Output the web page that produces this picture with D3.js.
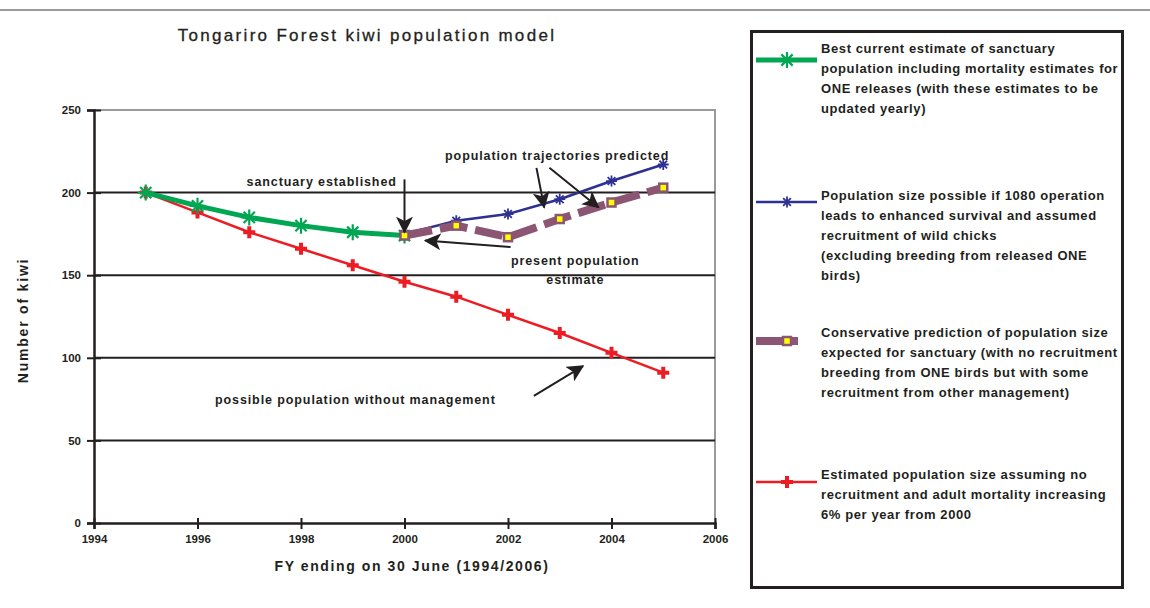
<!DOCTYPE html>
<html>
<head>
<meta charset="utf-8">
<script src="https://cdn.jsdelivr.net/npm/d3@7"></script>
<style>
  html, body { margin: 0; padding: 0; background: #fff; }
  svg { display: block; font-family: 'Liberation Sans', Arial, sans-serif; }
</style>
</head>
<body>
<div id="chart"></div>
<script>
// years on the x axis
const years = [1995, 1996, 1997, 1998, 1999, 2000, 2001, 2002, 2003, 2004, 2005]
const xTicks = [1994, 1996, 1998, 2000, 2002, 2004, 2006]
const yTicks = [0, 50, 100, 150, 200, 250]

// series values
const currentYears = [1995, 1996, 1997, 1998, 1999, 2000]
const currentEstimate = [200, 192, 185, 180, 176, 174]
const futureYears = [2000, 2001, 2002, 2003, 2004, 2005]
const possible1080 = [175, 183, 187, 196, 207, 217]
const conservative = [174, 180, 173, 184, 194, 203]
const noManagement = [200, 188, 176, 166, 156, 146, 137, 126, 115, 103, 91]

const legendTexts = [
  ['Best current estimate of sanctuary', 'population including mortality estimates for', 'ONE releases (with these estimates to be', 'updated yearly)'],
  ['Population size possible if 1080 operation', 'leads to enhanced survival and assumed', 'recruitment of wild chicks', '(excluding breeding from released ONE', 'birds)'],
  ['Conservative prediction of population size', 'expected for sanctuary (with no recruitment', 'breeding from ONE birds but with some', 'recruitment from other management)'],
  ['Estimated population size assuming no', 'recruitment and adult mortality increasing', '6% per year from 2000']
]

const width = 1150
const height = 608
const ink = '#231f20'

const svg = d3.select('#chart')
  .append('svg')
  .attr('width', width)
  .attr('height', height)

svg.append('line')
  .attr('x1', 0).attr('x2', width)
  .attr('y1', 10).attr('y2', 10)
  .attr('stroke', '#9a9a9a')
  .attr('stroke-width', 2)

const x = d3.scaleLinear().domain([1994, 2006]).range([94, 715])
const y = d3.scaleLinear().domain([0, 250]).range([523, 110])

// plot border (grey top/right)
svg.append('path')
  .attr('d', `M${x(1994)},${y(250)}H${x(2006)}V${y(0)}`)
  .attr('fill', 'none')
  .attr('stroke', '#9a9a9a')
  .attr('stroke-width', 2)

// gridlines
svg.append('g')
  .selectAll('line')
  .data(yTicks.filter(d => d > 0 && d < 250))
  .join('line')
  .attr('x1', x(1994)).attr('x2', x(2006))
  .attr('y1', d => y(d)).attr('y2', d => y(d))
  .attr('stroke', ink)
  .attr('stroke-width', 2)

// axes
const yAxis = svg.append('g')
  .attr('transform', `translate(${x(1994)},0)`)
  .call(d3.axisLeft(y).tickValues(yTicks).tickSize(7).tickPadding(13).tickFormat(d3.format('d')))
yAxis.select('.domain').attr('stroke', ink).attr('stroke-width', 2.5)
yAxis.selectAll('.tick line').attr('stroke', ink).attr('stroke-width', 2).attr('x2', 7).attr('x1', -7)
yAxis.selectAll('text').attr('font-size', 11.5).attr('font-weight', 'bold').attr('fill', ink).attr('dx', 7)

const xAxis = svg.append('g')
  .attr('transform', `translate(0,${y(0)})`)
  .call(d3.axisBottom(x).tickValues(xTicks).tickSize(6).tickPadding(6).tickFormat(d3.format('d')))
xAxis.select('.domain').attr('stroke', ink).attr('stroke-width', 2.5)
xAxis.selectAll('.tick line').attr('stroke', ink).attr('stroke-width', 2).attr('y1', -5)
xAxis.selectAll('text').attr('font-size', 11.5).attr('font-weight', 'bold').attr('fill', ink)

// titles
svg.append('text')
  .attr('x', 367).attr('y', 41)
  .attr('text-anchor', 'middle')
  .attr('font-size', 17)
  .attr('letter-spacing', 2.3)
  .attr('fill', ink)
  .attr('stroke', ink)
  .attr('stroke-width', 0.3)
  .text('Tongariro Forest kiwi population model')

svg.append('text')
  .attr('transform', `translate(28,${(y(0) + y(250)) / 2 + 4}) rotate(-90)`)
  .attr('text-anchor', 'middle')
  .attr('font-size', 14)
  .attr('letter-spacing', 1.8)
  .attr('font-weight', 'bold')
  .attr('fill', ink)
  .text('Number of kiwi')

svg.append('text')
  .attr('x', 412).attr('y', 571)
  .attr('text-anchor', 'middle')
  .attr('font-size', 14)
  .attr('letter-spacing', 1.6)
  .attr('font-weight', 'bold')
  .attr('fill', ink)
  .text('FY ending on 30 June (1994/2006)')

// markers
const starPath = s => `M${-s},0H${s}M0,${-s}V${s}M${-s * 0.7},${-s * 0.7}L${s * 0.7},${s * 0.7}M${-s * 0.7},${s * 0.7}L${s * 0.7},${-s * 0.7}`
const crossSymbol = d3.symbol().type(d3.symbolCross).size(80)

const line = d3.line().x(d => x(d[0])).y(d => y(d[1]))

function drawSeries (xs, vs, color, widthPx, dash, marker) {
  const pts = xs.map((yr, i) => [yr, vs[i]])
  svg.append('path')
    .datum(pts)
    .attr('d', line)
    .attr('fill', 'none')
    .attr('stroke', color)
    .attr('stroke-width', widthPx)
    .attr('stroke-dasharray', dash)
  svg.append('g')
    .selectAll('g')
    .data(pts)
    .join('g')
    .attr('transform', d => `translate(${x(d[0])},${y(d[1])})`)
    .each(function () { marker(d3.select(this), color) })
}

const markStar = (sel, color) => sel.append('path').attr('d', starPath(8)).attr('stroke', color).attr('stroke-width', 2.2).attr('fill', 'none')
const markStarSmall = (sel, color) => sel.append('path').attr('d', starPath(5.5)).attr('stroke', color).attr('stroke-width', 1.8).attr('fill', 'none')
const markCross = (sel, color) => sel.append('path').attr('d', crossSymbol()).attr('fill', color)
const markSquare = (sel) => sel.append('rect').attr('x', -4).attr('y', -4).attr('width', 8).attr('height', 8).attr('fill', '#ffff00').attr('stroke', '#8c5573').attr('stroke-width', 2.5)

drawSeries(years, noManagement, '#ed1c24', 2.5, null, markCross)
drawSeries(currentYears, currentEstimate, '#00a651', 5, null, markStar)
drawSeries(futureYears, possible1080, '#2e3192', 2.5, null, markStarSmall)
drawSeries(futureYears, conservative, '#8c5573', 8, '28,8', markSquare)

// annotations (data coordinates)
const annotations = [
  { text: ['sanctuary established'], tx: 1998.4, ty: 204, arrows: [[2000, 208, 2000, 176]] },
  { text: ['population trajectories predicted'], tx: 2002.95, ty: 220, arrows: [[2002.55, 215, 2002.7, 191], [2002.8, 215, 2003.75, 191]] },
  { text: ['present population', 'estimate'], tx: 2003.3, ty: 156, arrows: [[2002.05, 167, 2000.4, 171]] },
  { text: ['possible population without management'], tx: 1999.05, ty: 72, arrows: [[2002.5, 77, 2003.45, 95]] }
]

svg.append('defs').append('marker')
  .attr('id', 'arrowhead')
  .attr('viewBox', '0 -6 12 12')
  .attr('refX', 11)
  .attr('markerUnits', 'userSpaceOnUse')
  .attr('markerWidth', 17)
  .attr('markerHeight', 17)
  .attr('orient', 'auto')
  .append('path')
  .attr('d', 'M0,-6L12,0L0,6L3,0Z')
  .attr('fill', ink)

annotations.forEach(a => {
  a.arrows.forEach(ar => {
    svg.append('line')
      .attr('x1', x(ar[0])).attr('y1', y(ar[1]))
      .attr('x2', x(ar[2])).attr('y2', y(ar[3]))
      .attr('stroke', ink)
      .attr('stroke-width', 2)
      .attr('marker-end', 'url(#arrowhead)')
  })
  a.text.forEach((t, i) => {
    svg.append('text')
      .attr('x', x(a.tx)).attr('y', y(a.ty) + i * 19)
      .attr('text-anchor', 'middle')
      .attr('font-size', 12.5)
      .attr('letter-spacing', 0.9)
      .attr('font-weight', 'bold')
      .attr('fill', ink)
      .text(t)
  })
})

// legend
const legend = svg.append('g')
legend.append('rect')
  .attr('x', 751.5).attr('y', 31.5)
  .attr('width', 371).attr('height', 556)
  .attr('fill', 'none')
  .attr('stroke', ink)
  .attr('stroke-width', 3)

const legendItems = [
  { color: '#00a651', w: 5, dash: null, marker: markStar, y: 60, ty: 53 },
  { color: '#2e3192', w: 2.5, dash: null, marker: markStarSmall, y: 202, ty: 200 },
  { color: '#8c5573', w: 8, dash: '42,20', marker: markSquare, y: 341, ty: 337 },
  { color: '#ed1c24', w: 2.5, dash: null, marker: markCross, y: 482, ty: 479 }
]

legendItems.forEach((item, i) => {
  legend.append('line')
    .attr('x1', 756).attr('x2', 817)
    .attr('y1', item.y).attr('y2', item.y)
    .attr('stroke', item.color)
    .attr('stroke-width', item.w)
    .attr('stroke-dasharray', item.dash)
  item.marker(legend.append('g').attr('transform', `translate(787,${item.y})`), item.color)
  legendTexts[i].forEach((t, j) => {
    legend.append('text')
      .attr('x', 821).attr('y', item.ty + j * 20)
      .attr('font-size', 13)
      .attr('letter-spacing', 0.6)
      .attr('font-weight', 'bold')
      .attr('fill', ink)
      .text(t)
  })
})
</script>
</body>
</html>
